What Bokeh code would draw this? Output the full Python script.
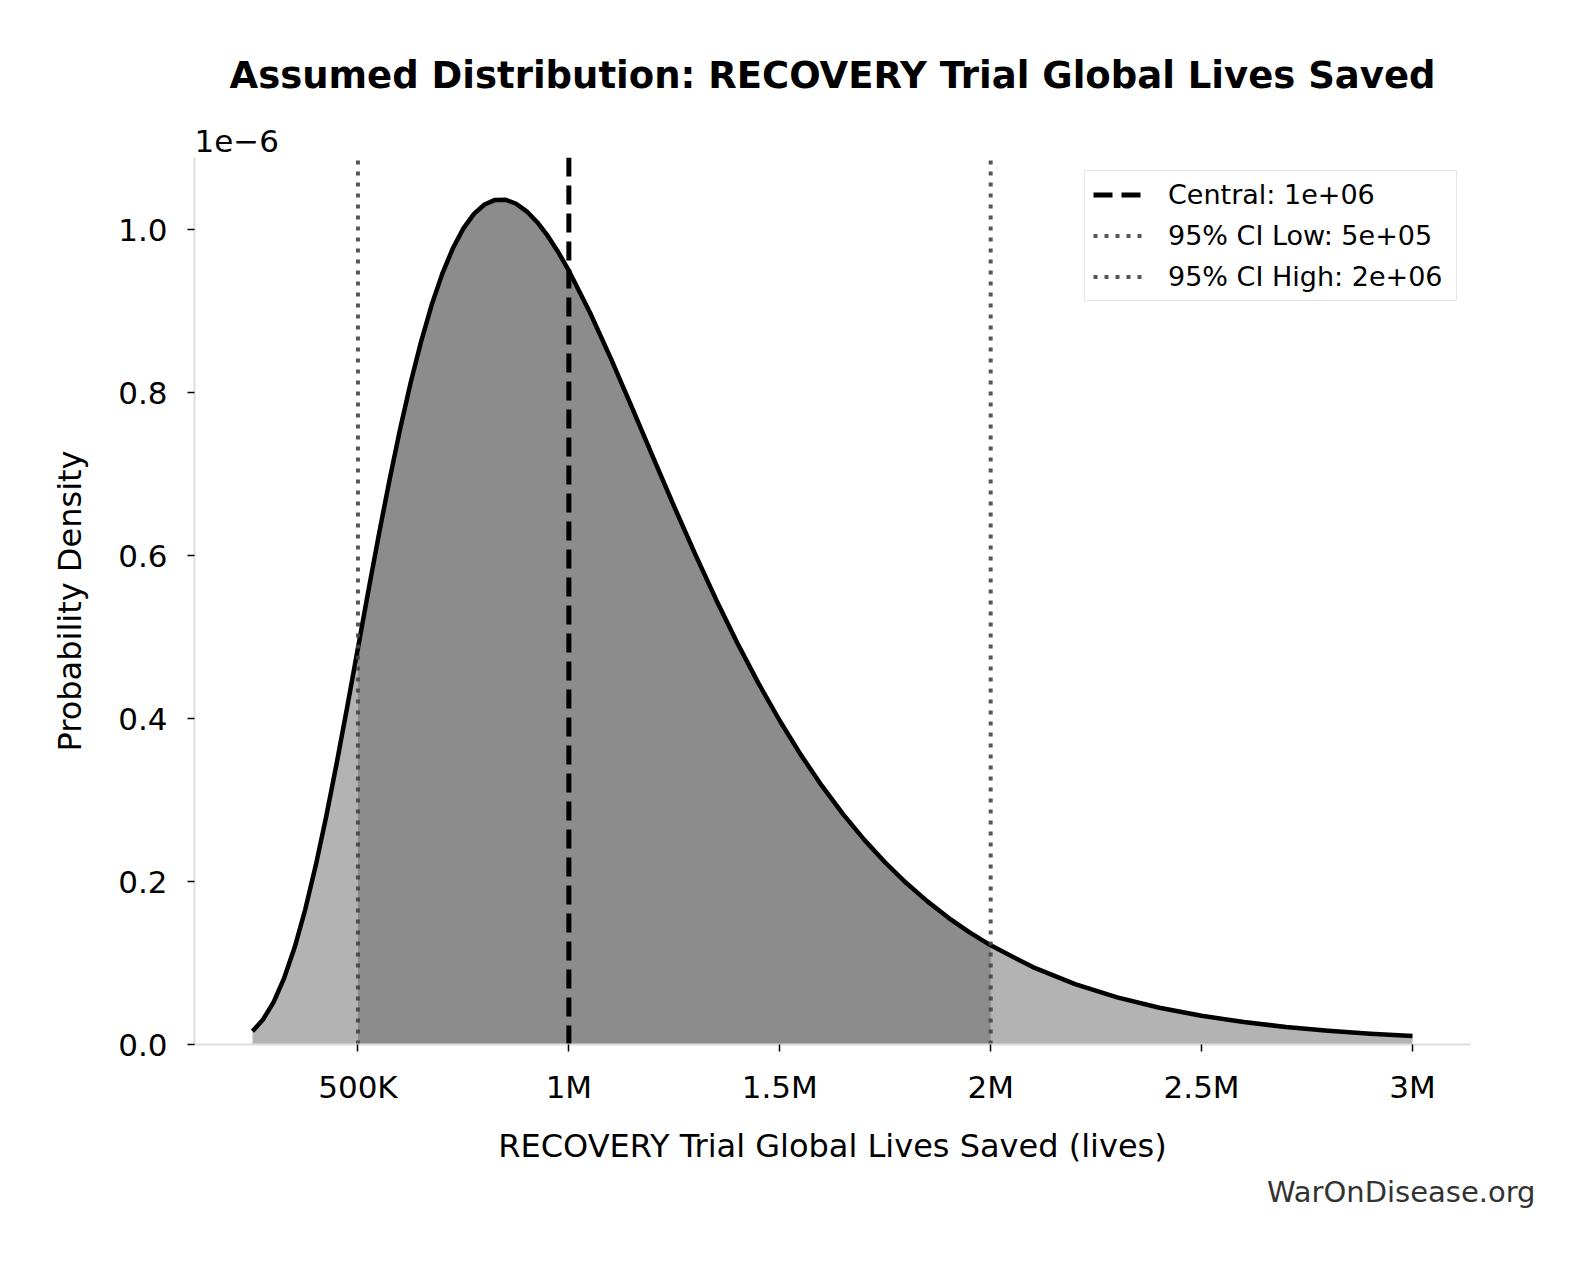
from bokeh.plotting import figure
from bokeh.models import Range1d, FixedTicker, Title, Legend, LegendItem
from bokeh.embed import file_html
from bokeh.resources import INLINE

# ---- data ----
lives_m = [0.250, 0.275, 0.300, 0.325, 0.350, 0.375, 0.400, 0.425, 0.450, 0.475,
           0.500, 0.525, 0.550, 0.575, 0.600, 0.625, 0.650, 0.675, 0.700, 0.725,
           0.750, 0.775, 0.800, 0.825, 0.850, 0.875, 0.900, 0.925, 0.950, 0.975,
           1.00, 1.05, 1.10, 1.15, 1.20, 1.25, 1.30, 1.35, 1.40, 1.45, 1.50, 1.55,
           1.60, 1.65, 1.70, 1.75, 1.80, 1.85, 1.90, 1.95, 2.00, 2.10, 2.20, 2.30,
           2.40, 2.50, 2.60, 2.70, 2.80, 2.90, 3.00]
density_e6 = [0.0164, 0.0307, 0.0520, 0.0815, 0.1193, 0.1657, 0.2199, 0.2805, 0.3464,
              0.4157, 0.4867, 0.5577, 0.6271, 0.6934, 0.7556, 0.8126, 0.8635, 0.9082,
              0.9462, 0.9773, 1.0017, 1.0195, 1.0311, 1.0367, 1.0369, 1.0320, 1.0227,
              1.0093, 0.9924, 0.9724, 0.9498, 0.8985, 0.8416, 0.7815, 0.7204, 0.6599,
              0.6012, 0.5451, 0.4922, 0.4429, 0.3974, 0.3555, 0.3174, 0.2828, 0.2515,
              0.2234, 0.1982, 0.1757, 0.1555, 0.1376, 0.1217, 0.0950, 0.0741, 0.0578,
              0.0451, 0.0352, 0.0275, 0.0215, 0.0168, 0.0132, 0.0104]
central = 1_000_000
ci_low = 500_000
ci_high = 2_000_000
legend_labels = ["Central: 1e+06", "95% CI Low: 5e+05", "95% CI High: 2e+06"]
x_ticks = [500_000, 1_000_000, 1_500_000, 2_000_000, 2_500_000, 3_000_000]
x_tick_labels = ["500K", "1M", "1.5M", "2M", "2.5M", "3M"]
y_ticks = [0.0, 0.2, 0.4, 0.6, 0.8, 1.0]
y_tick_labels = ["0.0", "0.2", "0.4", "0.6", "0.8", "1.0"]
title_text = "Assumed Distribution: RECOVERY Trial Global Lives Saved"
x_label = "RECOVERY Trial Global Lives Saved (lives)"
y_label = "Probability Density"
offset_text = "1e\u22126"
watermark = "WarOnDisease.org"

FONT = "DejaVu Sans"

lives = [v * 1e6 for v in lives_m]
span = lives[-1] - lives[0]
x_start = lives[0] - 0.05 * span
x_end = lives[-1] + 0.05 * span
y_top = max(density_e6) * 1.05

W, H = 1577, 1250
ML, MR, MT, MB = 194, 107, 157, 206

p = figure(width=W, height=H, output_backend="svg", toolbar_location=None,
           x_range=Range1d(x_start, x_end), y_range=Range1d(0, y_top),
           min_border_left=ML, min_border_right=MR,
           min_border_top=MT, min_border_bottom=MB)
p.title = Title(text=title_text, align="center", text_font=FONT,
                text_font_size="37px", text_font_style="bold", text_color="black",
                standoff=49)
p.add_layout(Title(text=offset_text, align="left", text_font=FONT,
                   text_font_size="31px", text_font_style="normal",
                   text_color="black", standoff=12), "above")
p.add_layout(Title(text=watermark, align="right", offset=-65, text_font=FONT,
                   text_font_size="29px", text_font_style="normal",
                   text_color="#333333"), "below")
p.outline_line_color = None
p.grid.visible = False
p.background_fill_color = "white"
p.border_fill_color = "white"

# fills
p.varea(x=lives, y1=0, y2=density_e6, fill_color="#b3b3b3", fill_alpha=1.0)
band_x = [x for x in lives if ci_low <= x <= ci_high]
band_y = [d for x, d in zip(lives, density_e6) if ci_low <= x <= ci_high]
p.varea(x=band_x, y1=0, y2=band_y, fill_color="#8c8c8c", fill_alpha=1.0)

# curve
p.line(lives, density_e6, line_color="black", line_width=4.5, line_join="round")

# vertical reference lines
r_c = p.line([central, central], [0, y_top], line_color="black", line_width=5,
             line_dash="19 9")
r_l = p.line([ci_low, ci_low], [0, y_top], line_color="#444444", line_alpha=0.9,
             line_width=4, line_dash="4 7")
r_h = p.line([ci_high, ci_high], [0, y_top], line_color="#444444", line_alpha=0.9,
             line_width=4, line_dash="4 7")

legend = Legend(items=[LegendItem(label=legend_labels[0], renderers=[r_c]),
                       LegendItem(label=legend_labels[1], renderers=[r_l]),
                       LegendItem(label=legend_labels[2], renderers=[r_h])],
                location="top_right")
legend.margin = 13
legend.padding = 8
legend.spacing = 10
legend.glyph_width = 54
legend.glyph_height = 31
legend.label_standoff = 21
legend.label_width = 280
legend.label_text_font = FONT
legend.label_text_font_size = "27px"
legend.label_text_color = "black"
legend.border_line_color = "#cccccc"
legend.border_line_width = 1.5
legend.background_fill_alpha = 0.8
p.add_layout(legend)

# axes
for ax in (p.xaxis, p.yaxis):
    ax.axis_line_color = "#dddddd"
    ax.axis_line_width = 2
    ax.major_tick_line_color = "black"
    ax.major_tick_line_width = 1.5
    ax.major_tick_out = 7
    ax.major_tick_in = 0
    ax.minor_tick_line_color = None
    ax.major_label_text_font = FONT
    ax.major_label_text_font_size = "31px"
    ax.major_label_text_color = "black"
    ax.axis_label_text_font = FONT
    ax.axis_label_text_font_size = "32px"
    ax.axis_label_text_font_style = "normal"
    ax.axis_label_text_color = "black"

p.xaxis.ticker = FixedTicker(ticks=x_ticks)
p.xaxis.major_label_overrides = dict(zip(x_ticks, x_tick_labels))
p.xaxis.major_label_standoff = 17
p.xaxis.axis_label = x_label
p.xaxis.axis_label_standoff = 19

p.yaxis.ticker = FixedTicker(ticks=y_ticks)
p.yaxis.major_label_overrides = dict(zip(y_ticks, y_tick_labels))
p.yaxis.major_label_standoff = 20
p.yaxis.axis_label = y_label
p.yaxis.axis_label_standoff = 26

open("out.html", "w").write(file_html(p, INLINE))
